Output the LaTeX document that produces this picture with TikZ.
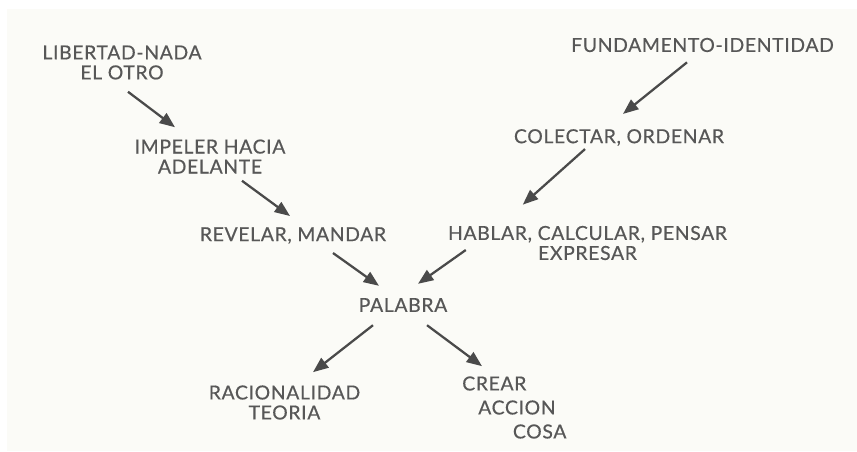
\documentclass[tikz,border=0pt]{standalone}
\usepackage{fontspec}
\setsansfont[LetterSpace=3.5,FakeBold=0.5]{Lato}
\usetikzlibrary{arrows.meta,calc}
\definecolor{ink}{HTML}{575757}
\definecolor{pen}{HTML}{4A4A4A}
\definecolor{paper}{HTML}{FBFBF7}

\begin{document}
\begin{tikzpicture}[x=0.75pt,y=-0.75pt,font=\sffamily\fontsize{14.5}{15}\selectfont,text=ink,
  >={Triangle[length=11.5pt,width=9pt]},
  lbl/.style={inner sep=0pt,align=center},
  arr/.style={->,pen,line width=1.7pt}]
  \useasboundingbox (0,0) rectangle (857,451);
  \fill[paper] (7,9) rectangle (857,451);

  \node[lbl] (lib) at (122,62.5) {LIBERTAD-NADA\\EL OTRO};
  \node[lbl] (imp) at (210,156.5) {IMPELER HACIA\\ADELANTE};
  \node[lbl] (fund) at (702.5,45) {FUNDAMENTO-IDENTIDAD};
  \node[lbl] (col) at (619,137.5) {COLECTAR, ORDENAR};
  \node[lbl] (rev) at (293,235.5) {REVELAR, MANDAR};
  \node[lbl] (hab) at (587.5,243) {HABLAR, CALCULAR, PENSAR\\EXPRESAR};
  \node[lbl] (pal) at (403,305) {PALABRA};
  \node[lbl] (rac) at (284.5,402.5) {RACIONALIDAD\\TEORIA};
  \node[lbl,align=left,anchor=west] (crear) at (462,407.5)
    {CREAR\\[3pt]\hspace*{12pt}ACCION\\[3pt]\hspace*{38pt}COSA};

  \draw[arr] ($(lib.south)+(6,12)$) -- ($(imp.north)+(-35,-12)$);
  \draw[arr] ($(imp.south)+(32,7)$) -- ($(rev.north)+(-3,-11)$);
  \draw[arr] ($(fund.south)+(-15.5,10)$) -- ($(col.north)+(4,-15)$);
  \draw[arr] ($(col.south)+(-34,3)$) -- ($(hab.north west)+(75,-21)$);
  \draw[arr] ($(rev.south)+(40,9)$) -- ($(pal.north)+(-24,-12)$);
  \draw[arr] ($(hab.west)+(18,7)$) -- ($(pal.north)+(15,-14)$);
  \draw[arr] ($(pal.south)+(-30,13)$) -- ($(rac.north)+(28.5,-13)$);
  \draw[arr] ($(pal.south)+(24,13)$) -- ($(crear.north west)+(20,-10)$);
\end{tikzpicture}
\end{document}
